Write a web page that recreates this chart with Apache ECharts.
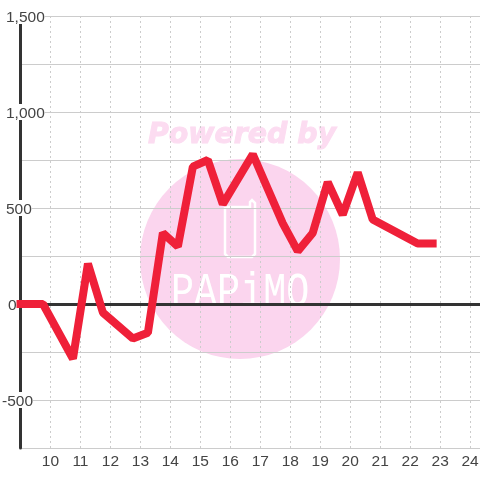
<!DOCTYPE html>
<html><head><meta charset="utf-8">
<style>html,body{margin:0;padding:0;background:#fff}#c{width:480px;height:480px}</style>
<script src="https://cdn.jsdelivr.net/npm/echarts@6/dist/echarts.min.js"></script>
</head><body><div id="c"></div>
<script>
const hours = [9, 9.75, 10.75, 11.25, 11.75, 12.75, 13.25, 13.75, 14.25, 14.75, 15.25, 15.75, 16.75, 17.25, 17.75, 18.25, 18.75, 19.25, 19.75, 20.25, 20.75, 22.25, 22.75];
const profit = [0, 0, -285, 210, -45, -180, -150, 370, 300, 715, 750, 520, 780, 600, 420, 275, 370, 635, 465, 685, 440, 315, 315];
const points = hours.map((h, i) => [h, profit[i]]);
const chart = echarts.init(document.getElementById('c'), null, {renderer: 'canvas'});
const fmt = v => {
  if (v % 500 !== 0) return '';
  const s = Math.abs(v).toString().replace(/\B(?=(\d{3})+$)/g, ',');
  if (v < 0) return '{neg|-' + s + '}';
  if (v === 0) return '{zero|' + s + '}';
  return '{pos|' + s + '}';
};
const lab = {fontFamily: 'Liberation Sans', fontSize: 15.5, color: '#444', backgroundColor: '#fff', lineHeight: 12, height: 12};
chart.setOption({
  animation: false,
  backgroundColor: '#fff',
  grid: {left: 20.5, right: 0, top: 16, bottom: 32, outerBoundsMode: 'none'},
  graphic: [
    {type: 'circle', z: -10, silent: true, shape: {cx: 240, cy: 259, r: 100}, style: {fill: '#fbd5ee'}},
    {type: 'text', z: -9, silent: true, x: 148, y: 122, style: {text: 'Powered by', fill: '#fcdcf1', stroke: '#fcdcf1', lineWidth: 1, font: 'italic bold 28.4px "DejaVu Sans"'}},
    {type: 'polyline', z: -9, silent: true, shape: {points: [[225, 207], [225, 254], [228, 257], [252, 257], [255, 254], [255, 203], [252, 200], [250, 202], [250, 207], [225, 207]]}, style: {fill: 'none', stroke: '#fff', lineWidth: 2.5}},
    {type: 'text', z: -9, silent: true, x: 171, y: 269, scaleX: 0.8, style: {text: 'PAPiMO', fill: '#fff', font: '48px "Liberation Mono"'}}
  ],
  xAxis: [
    {type: 'value', min: 9, max: 24.33, interval: 1, position: 'bottom',
     axisLine: {show: false, onZero: false}, axisTick: {show: false},
     axisLabel: {fontFamily: 'Liberation Sans', fontSize: 15.5, color: '#444', margin: 6, showMinLabel: false, showMaxLabel: false},
     splitLine: {show: true, lineStyle: {color: '#ccc', type: [2, 3], width: 1}}},
    {type: 'value', min: 9, max: 24.33, interval: 1, position: 'bottom',
     axisLine: {show: true, onZero: true, lineStyle: {color: '#333', width: 3}}, axisTick: {show: false},
     axisLabel: {show: false}, splitLine: {show: false}}
  ],
  yAxis: {type: 'value', min: -750, max: 1500, interval: 250,
    axisLine: {show: true, onZero: false, lineStyle: {color: '#333', width: 3}}, axisTick: {show: false},
    axisLabel: {formatter: fmt, align: 'left', margin: 18.5, showMinLabel: false,
      rich: {
        pos: Object.assign({padding: [4, 0, 0, 4]}, lab),
        zero: Object.assign({padding: [4, 0, 0, 6]}, lab),
        neg: Object.assign({padding: [4, 0, 0, 0]}, lab)
      }},
    splitLine: {show: true, lineStyle: {color: '#ccc', width: 1}}},
  series: [{type: 'line', xAxisIndex: 0, data: points, showSymbol: false, symbol: 'none', clip: false, smooth: false,
    lineStyle: {color: '#ef2039', width: 8, cap: 'square', join: 'bevel'}}]
});
</script></body></html>
